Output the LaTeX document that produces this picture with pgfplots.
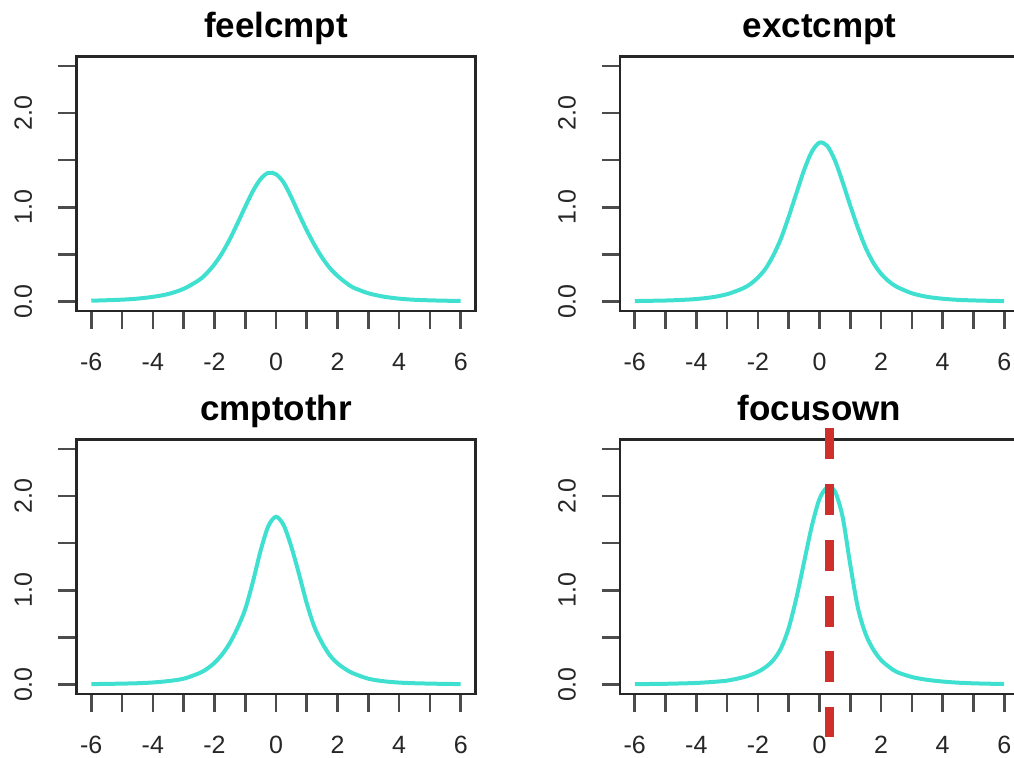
\documentclass[border=0pt]{standalone}
\usepackage{pgfplots}
\pgfplotsset{compat=1.18}
\usepackage{fontspec}
\setmainfont{Liberation Sans}
\definecolor{turq}{HTML}{40E0D0}
\definecolor{rline}{HTML}{D0302B}

\pgfplotsset{rpanel/.style={
    scale only axis, width=199.5pt, height=127.25pt,
    anchor=south west,
    xmin=-6.48, xmax=6.48, ymin=-0.1, ymax=2.6,
    axis line style={black!85, line width=1.2pt},
    xtick={-6,-4,-2,0,2,4,6}, xticklabels={-6,-4,-2,0,2,4,6},
    minor xtick={-5,-3,-1,1,3,5},
    ytick={0,1,2}, yticklabels={0.0,1.0,2.0},
    minor ytick={0.5,1.5,2.5},
    tick align=outside, xtick pos=bottom, ytick pos=left,
    major tick length=9pt, minor tick length=9pt,
    tick style={black!70, line width=1.3pt},
    tick label style={font=\fontsize{12.5}{14}\selectfont, text=black!85},
    xticklabel style={anchor=north, inner sep=0pt},
    xticklabel shift=12pt,
    yticklabel style={rotate=90, anchor=base, inner sep=0pt},
    yticklabel shift=13.25pt,
    title style={at={(0.5,1)}, anchor=base, yshift=3.25pt, inner sep=0pt,
        font=\bfseries\fontsize{17.5}{20}\selectfont},
    dens/.style={turq, line width=2pt, smooth},
}}

\begin{document}
\begin{tikzpicture}
\useasboundingbox (0,0) rectangle (507pt,379pt);
\clip (0,0) rectangle (507pt,379pt);

% feelcmpt
\begin{axis}[rpanel, at={(38.25pt,223.5pt)}, title={feelcmpt}]
\addplot[dens] coordinates {
 (-6,0.009) (-5.5,0.014) (-5,0.020) (-4.5,0.031) (-4,0.050) (-3.5,0.080)
 (-3,0.135) (-2.5,0.228) (-2.25,0.300) (-2,0.395) (-1.75,0.515)
 (-1.5,0.662) (-1.25,0.830) (-1,1.005) (-0.75,1.172) (-0.5,1.300)
 (-0.25,1.366) (0,1.351) (0.25,1.262) (0.5,1.105) (0.75,0.925)
 (1,0.755) (1.25,0.600) (1.5,0.465) (1.75,0.355) (2,0.272)
 (2.25,0.205) (2.5,0.150) (3,0.088) (3.5,0.052) (4,0.031) (4.5,0.019)
 (5,0.013) (5.5,0.009) (6,0.006)
};
\end{axis}

% exctcmpt
\begin{axis}[rpanel, at={(310pt,223.5pt)}, title={exctcmpt}]
\addplot[dens] coordinates {
 (-6,0.005) (-5.5,0.008) (-5,0.011) (-4.5,0.017) (-4,0.027) (-3.5,0.045)
 (-3,0.078) (-2.5,0.138) (-2.25,0.185) (-2,0.255) (-1.75,0.350)
 (-1.5,0.490) (-1.25,0.670) (-1,0.900) (-0.75,1.150) (-0.5,1.395)
 (-0.25,1.590) (0,1.686) (0.25,1.652) (0.5,1.498) (0.75,1.269)
 (1,1.017) (1.25,0.780) (1.5,0.570) (1.75,0.410) (2,0.295)
 (2.25,0.215) (2.5,0.158) (3,0.088) (3.5,0.050) (4,0.030) (4.5,0.018)
 (5,0.012) (5.5,0.008) (6,0.005)
};
\end{axis}

% cmptothr
\begin{axis}[rpanel, at={(38.25pt,32pt)}, title={cmptothr}]
\addplot[dens] coordinates {
 (-6,0.005) (-5.5,0.007) (-5,0.010) (-4.5,0.014) (-4,0.022) (-3.5,0.037)
 (-3,0.062) (-2.5,0.120) (-2.25,0.165) (-2,0.230) (-1.75,0.320)
 (-1.5,0.440) (-1.25,0.600) (-1,0.800) (-0.75,1.090) (-0.5,1.420)
 (-0.25,1.680) (0,1.780) (0.25,1.690) (0.5,1.460) (0.75,1.170)
 (1,0.860) (1.25,0.610) (1.5,0.440) (1.75,0.310) (2,0.225)
 (2.25,0.165) (2.5,0.120) (3,0.062) (3.5,0.035) (4,0.021) (4.5,0.014)
 (5,0.010) (5.5,0.007) (6,0.005)
};
\end{axis}

% focusown
\begin{axis}[rpanel, at={(310pt,32pt)}, title={focusown}, clip=false]
\addplot[dens] coordinates {
 (-6,0.005) (-5.5,0.006) (-5,0.008) (-4.5,0.012) (-4,0.017) (-3.5,0.027)
 (-3,0.042) (-2.5,0.075) (-2.25,0.100) (-2,0.135) (-1.75,0.185)
 (-1.5,0.260) (-1.25,0.385) (-1,0.600) (-0.75,0.920) (-0.5,1.300)
 (-0.25,1.680) (0,1.970) (0.25,2.090) (0.5,2.050) (0.75,1.780)
 (1,1.270) (1.25,0.810) (1.5,0.535) (1.75,0.370) (2,0.260)
 (2.25,0.190) (2.5,0.135) (3,0.080) (3.5,0.050) (4,0.032) (4.5,0.020)
 (5,0.013) (5.5,0.009) (6,0.006)
};
\addplot[rline, line width=4.5pt, dash pattern=on 15.5pt off 12.4pt]
 coordinates {(0.33,2.72) (0.33,-0.56)};
\end{axis}
\end{tikzpicture}
\end{document}
